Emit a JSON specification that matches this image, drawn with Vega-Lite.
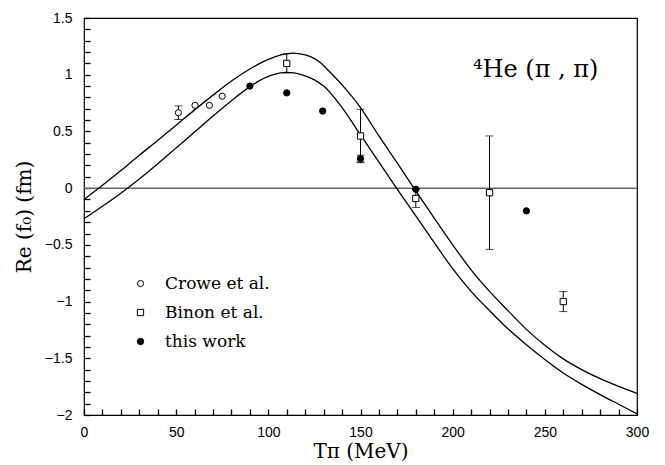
{
  "$schema": "https://vega.github.io/schema/vega-lite/v6.json",
  "width": 553,
  "height": 397,
  "autosize": {"type": "none"},
  "padding": {"left": 84, "top": 18, "right": 28, "bottom": 50},
  "background": "white",
  "config": {
    "view": {"stroke": "black", "strokeWidth": 1.2},
    "axis": {
      "grid": false,
      "domain": false,
      "labelColor": "black",
      "titleColor": "black",
      "labelFont": "Liberation Sans",
      "labelFontSize": 14,
      "titleFont": "DejaVu Serif",
      "titleFontSize": 20,
      "titleFontWeight": "normal",
      "labelFlush": false,
      "labelOverlap": false,
      "labelBound": false
    }
  },
  "datasets": {
    "curves": [
      {"T": 0, "Re": -0.10, "curve": "upper"},
      {"T": 10, "Re": 0.025, "curve": "upper"},
      {"T": 20, "Re": 0.155, "curve": "upper"},
      {"T": 30, "Re": 0.29, "curve": "upper"},
      {"T": 40, "Re": 0.42, "curve": "upper"},
      {"T": 50, "Re": 0.555, "curve": "upper"},
      {"T": 60, "Re": 0.69, "curve": "upper"},
      {"T": 70, "Re": 0.82, "curve": "upper"},
      {"T": 80, "Re": 0.945, "curve": "upper"},
      {"T": 90, "Re": 1.05, "curve": "upper"},
      {"T": 100, "Re": 1.135, "curve": "upper"},
      {"T": 113, "Re": 1.19, "curve": "upper"},
      {"T": 120, "Re": 1.175, "curve": "upper"},
      {"T": 128, "Re": 1.11, "curve": "upper"},
      {"T": 133, "Re": 1.03, "curve": "upper"},
      {"T": 140, "Re": 0.91, "curve": "upper"},
      {"T": 150, "Re": 0.71, "curve": "upper"},
      {"T": 160, "Re": 0.46, "curve": "upper"},
      {"T": 170, "Re": 0.22, "curve": "upper"},
      {"T": 180, "Re": -0.025, "curve": "upper"},
      {"T": 190, "Re": -0.265, "curve": "upper"},
      {"T": 200, "Re": -0.50, "curve": "upper"},
      {"T": 210, "Re": -0.72, "curve": "upper"},
      {"T": 220, "Re": -0.91, "curve": "upper"},
      {"T": 230, "Re": -1.08, "curve": "upper"},
      {"T": 240, "Re": -1.245, "curve": "upper"},
      {"T": 250, "Re": -1.385, "curve": "upper"},
      {"T": 260, "Re": -1.505, "curve": "upper"},
      {"T": 270, "Re": -1.60, "curve": "upper"},
      {"T": 280, "Re": -1.68, "curve": "upper"},
      {"T": 290, "Re": -1.748, "curve": "upper"},
      {"T": 300, "Re": -1.81, "curve": "upper"},
      {"T": 0, "Re": -0.27, "curve": "lower"},
      {"T": 10, "Re": -0.16, "curve": "lower"},
      {"T": 20, "Re": -0.045, "curve": "lower"},
      {"T": 30, "Re": 0.08, "curve": "lower"},
      {"T": 40, "Re": 0.215, "curve": "lower"},
      {"T": 50, "Re": 0.355, "curve": "lower"},
      {"T": 60, "Re": 0.495, "curve": "lower"},
      {"T": 70, "Re": 0.635, "curve": "lower"},
      {"T": 80, "Re": 0.77, "curve": "lower"},
      {"T": 90, "Re": 0.895, "curve": "lower"},
      {"T": 100, "Re": 0.985, "curve": "lower"},
      {"T": 110, "Re": 1.02, "curve": "lower"},
      {"T": 120, "Re": 0.99, "curve": "lower"},
      {"T": 125, "Re": 0.955, "curve": "lower"},
      {"T": 130, "Re": 0.90, "curve": "lower"},
      {"T": 140, "Re": 0.71, "curve": "lower"},
      {"T": 150, "Re": 0.47, "curve": "lower"},
      {"T": 160, "Re": 0.23, "curve": "lower"},
      {"T": 170, "Re": -0.01, "curve": "lower"},
      {"T": 180, "Re": -0.245, "curve": "lower"},
      {"T": 190, "Re": -0.48, "curve": "lower"},
      {"T": 200, "Re": -0.71, "curve": "lower"},
      {"T": 210, "Re": -0.91, "curve": "lower"},
      {"T": 220, "Re": -1.08, "curve": "lower"},
      {"T": 230, "Re": -1.24, "curve": "lower"},
      {"T": 240, "Re": -1.38, "curve": "lower"},
      {"T": 250, "Re": -1.51, "curve": "lower"},
      {"T": 260, "Re": -1.63, "curve": "lower"},
      {"T": 270, "Re": -1.73, "curve": "lower"},
      {"T": 280, "Re": -1.82, "curve": "lower"},
      {"T": 290, "Re": -1.905, "curve": "lower"},
      {"T": 300, "Re": -1.99, "curve": "lower"}
    ],
    "points": [
      {"T": 51.2, "Re": 0.665, "err": 0.06, "series": "Crowe et al."},
      {"T": 60.2, "Re": 0.73, "series": "Crowe et al."},
      {"T": 68, "Re": 0.73, "series": "Crowe et al."},
      {"T": 75, "Re": 0.81, "series": "Crowe et al."},
      {"T": 110, "Re": 1.10, "err": 0.085, "series": "Binon et al."},
      {"T": 150, "Re": 0.46, "err": 0.235, "series": "Binon et al."},
      {"T": 180, "Re": -0.09, "err": 0.08, "series": "Binon et al."},
      {"T": 220, "Re": -0.04, "err": 0.50, "series": "Binon et al."},
      {"T": 260, "Re": -1.0, "err": 0.088, "series": "Binon et al."},
      {"T": 90, "Re": 0.90, "series": "this work"},
      {"T": 110, "Re": 0.84, "series": "this work"},
      {"T": 129.5, "Re": 0.68, "series": "this work"},
      {"T": 150, "Re": 0.26, "err": 0.03, "series": "this work"},
      {"T": 180, "Re": -0.01, "series": "this work"},
      {"T": 240, "Re": -0.20, "series": "this work"}
    ]
  },
  "layer": [
    {
      "data": {"values": [{}]},
      "mark": {"type": "rule", "color": "#666666", "strokeWidth": 1.5},
      "encoding": {"y": {"datum": 0, "type": "quantitative", "axis": null}}
    },
    {
      "data": {"name": "curves"},
      "mark": {"type": "line", "interpolate": "monotone", "color": "black", "strokeWidth": 1.3},
      "encoding": {
        "x": {
          "field": "T", "type": "quantitative",
          "scale": {"domain": [0, 300], "nice": false},
          "axis": {
            "orient": "bottom",
            "values": [0,10,20,30,40,50,60,70,80,90,100,110,120,130,140,150,160,170,180,190,200,210,220,230,240,250,260,270,280,290,300],
            "format": "d",
            "labelExpr": "datum.value % 50 === 0 ? datum.label : ''",
            "ticks": true,
            "tickColor": "black",
            "tickWidth": 1.3,
            "tickSize": -6,
            "labelPadding": 16,
            "title": "Tπ (MeV)",
            "titlePadding": 2
          }
        },
        "y": {
          "field": "Re", "type": "quantitative",
          "scale": {"domain": [-2, 1.5], "nice": false, "zero": false},
          "axis": {
            "orient": "left",
            "values": [-2,-1.9,-1.8,-1.7,-1.6,-1.5,-1.4,-1.3,-1.2,-1.1,-1,-0.9,-0.8,-0.7,-0.6,-0.5,-0.4,-0.3,-0.2,-0.1,0,0.1,0.2,0.3,0.4,0.5,0.6,0.7,0.8,0.9,1,1.1,1.2,1.3,1.4,1.5],
            "format": "~g",
            "labelExpr": "abs(datum.value*2 - round(datum.value*2)) < 0.001 ? datum.label : ''",
            "ticks": true,
            "tickColor": "black",
            "tickWidth": 1.3,
            "tickSize": -6,
            "labelPadding": 18,
            "title": "Re (f₀)  (fm)",
            "titlePadding": 10
          }
        },
        "detail": {"field": "curve"}
      }
    },
    {
      "data": {"name": "points"},
      "transform": [{"filter": "datum.err > 0"}],
      "mark": {"type": "errorbar", "ticks": {"size": 8, "thickness": 1, "color": "black"}, "color": "black", "thickness": 1},
      "encoding": {
        "x": {"field": "T", "type": "quantitative", "axis": null},
        "y": {"field": "Re", "type": "quantitative", "axis": null},
        "yError": {"field": "err"}
      }
    },
    {
      "data": {"name": "points"},
      "mark": {"type": "point", "stroke": "black", "strokeWidth": 1, "opacity": 1, "fillOpacity": 1},
      "encoding": {
        "x": {"field": "T", "type": "quantitative", "axis": null},
        "y": {"field": "Re", "type": "quantitative", "axis": null},
        "shape": {
          "field": "series", "type": "nominal",
          "scale": {"domain": ["Crowe et al.", "Binon et al.", "this work"], "range": ["circle", "square", "circle"]},
          "legend": {
            "orient": "none", "legendX": 48, "legendY": 257, "title": null,
            "labelFont": "DejaVu Serif", "labelFontSize": 17, "labelColor": "black",
            "rowPadding": 11, "labelOffset": 16,
            "symbolStrokeColor": "black", "symbolStrokeWidth": 1
          }
        },
        "fill": {
          "field": "series", "type": "nominal",
          "scale": {"domain": ["Crowe et al.", "Binon et al.", "this work"], "range": ["white", "white", "black"]}
        },
        "size": {
          "field": "series", "type": "nominal",
          "scale": {"domain": ["Crowe et al.", "Binon et al.", "this work"], "range": [38, 40, 50]}
        }
      }
    },
    {
      "data": {"values": [{}]},
      "mark": {"type": "text", "align": "left", "baseline": "alphabetic", "font": "DejaVu Serif", "fontSize": 24, "color": "black"},
      "encoding": {
        "x": {"datum": 211, "type": "quantitative", "axis": null},
        "y": {"datum": 0.98, "type": "quantitative", "axis": null},
        "text": {"value": "⁴He (π , π)"}
      }
    }
  ],
  "resolve": {"axis": {"x": "independent", "y": "independent"}}
}
